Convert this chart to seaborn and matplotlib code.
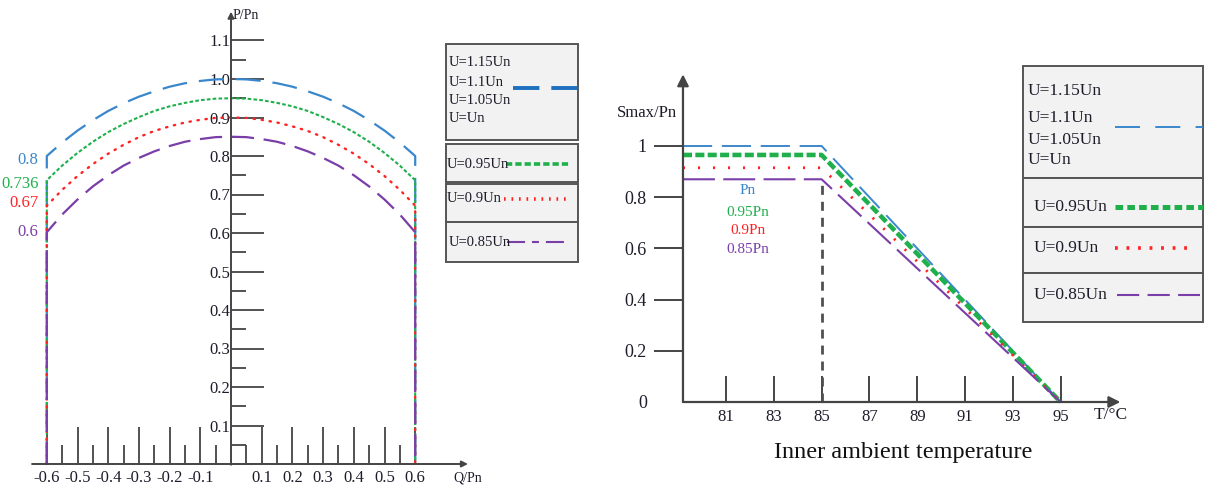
import pandas as pd
import seaborn as sns
import matplotlib.pyplot as plt
from matplotlib.patches import Rectangle

# ---- left chart: P/Pn vs Q/Pn for the voltage levels ----
q_pts = [-0.6, -0.55, -0.5, -0.45, -0.4, -0.35, -0.3, -0.25, -0.2, -0.15, -0.1, -0.05, 0.0,
         0.05, 0.1, 0.15, 0.2, 0.25, 0.3, 0.35, 0.4, 0.45, 0.5, 0.55, 0.6]
p_un = [0.800, 0.835, 0.866, 0.893, 0.917, 0.937, 0.954, 0.968, 0.980, 0.989, 0.995, 0.999, 1.000,
        0.999, 0.995, 0.989, 0.980, 0.968, 0.954, 0.937, 0.917, 0.893, 0.866, 0.835, 0.800]
p_095 = [0.737, 0.775, 0.808, 0.837, 0.862, 0.883, 0.901, 0.917, 0.929, 0.938, 0.945, 0.949, 0.950,
         0.949, 0.945, 0.938, 0.929, 0.917, 0.901, 0.883, 0.862, 0.837, 0.808, 0.775, 0.737]
p_090 = [0.671, 0.712, 0.748, 0.779, 0.806, 0.829, 0.849, 0.865, 0.877, 0.887, 0.894, 0.899, 0.900,
         0.899, 0.894, 0.887, 0.877, 0.865, 0.849, 0.829, 0.806, 0.779, 0.748, 0.712, 0.671]
p_085 = [0.602, 0.648, 0.687, 0.721, 0.750, 0.775, 0.795, 0.812, 0.826, 0.837, 0.844, 0.849, 0.850,
         0.849, 0.844, 0.837, 0.826, 0.812, 0.795, 0.775, 0.750, 0.721, 0.687, 0.648, 0.602]
end_labels = ['0.8', '0.736', '0.67', '0.6']
end_label_y = [0.79, 0.727, 0.678, 0.603]

# ---- right chart: Smax/Pn vs inner ambient temperature ----
temps = [79.2, 85, 95]
s_pn = [1.0, 1.0, 0.0]
s_095 = [0.965, 0.965, 0.0]
s_090 = [0.915, 0.915, 0.0]
s_085 = [0.87, 0.87, 0.0]
limit_t = [85, 85]
limit_s = [0.0, 0.87]
pn_labels = ['Pn', '0.95Pn', '0.9Pn', '0.85Pn']
pn_label_y = [0.828, 0.742, 0.668, 0.594]

blue, green, red, purple = '#3b87cc', '#1fb04c', '#ff2222', '#7a3ea8'
axc = '#444444'
txt = '#1c1c2a'

sns.set_style("white")
plt.rcParams['font.family'] = ['Liberation Serif', 'DejaVu Serif']
plt.rcParams['lines.scale_dashes'] = False

W, H = 1207, 488
fig = plt.figure(figsize=(W / 100, H / 100), dpi=100)


def px_axes(x0, x1, y0, y1):
    return fig.add_axes([x0 / W, (H - y1) / H, (x1 - x0) / W, (y1 - y0) / H])


# left axes: Q = (px-231)/307, P = (464-py)/385
ax1 = px_axes(10, 480, 5, 488)
ax1.set_xlim((10 - 231) / 307, (480 - 231) / 307)
ax1.set_ylim((464 - 488) / 385, (464 - 5) / 385)

curves = [(p_un, blue, 1.6, (0, (18, 8.6)), 'butt'),
          (p_095, green, 1.5, (0, (2.6, 1.6)), 'butt'),
          (p_090, red, 1.7, (0, (1.0, 4.8)), 'round'),
          (p_085, purple, 1.6, (0, (16, 7)), 'butt')]
for p, c, lw, ls, cap in curves:
    df = pd.DataFrame({'Q': [q_pts[0]] + q_pts + [q_pts[-1]], 'P': [0.0] + p + [0.0]})
    sns.lineplot(data=df, x='Q', y='P', sort=False, estimator=None, ax=ax1,
                 color=c, lw=lw, linestyle=ls, dash_capstyle=cap)

for lab, y, c in zip(end_labels, end_label_y, [blue, green, red, purple]):
    ax1.text(-0.627, y, lab, color=c, fontsize=12, ha='right', va='center')

for s in ax1.spines.values():
    s.set_visible(False)
ax1.spines['left'].set_position(('data', 0))
ax1.spines['bottom'].set_position(('data', 0))
ax1.annotate('', xy=(0, 1.175), xytext=(0, -0.002),
             arrowprops=dict(arrowstyle='-|>', color=axc, lw=1.4, shrinkA=0, shrinkB=0, mutation_scale=9))
ax1.annotate('', xy=(0.772, 0), xytext=(-0.648, 0),
             arrowprops=dict(arrowstyle='-|>', color=axc, lw=1.4, shrinkA=0, shrinkB=0, mutation_scale=9))

xt = [-0.6, -0.5, -0.4, -0.3, -0.2, -0.1, 0.1, 0.2, 0.3, 0.4, 0.5, 0.6]
ax1.set_xticks(xt)
ax1.set_xticklabels([f'{v:.1f}' for v in xt])
ax1.set_xticks([v + 0.05 for v in [-0.6, -0.5, -0.4, -0.3, -0.2, -0.1, 0.0, 0.1, 0.2, 0.3, 0.4, 0.5]], minor=True)
yt = [0.1, 0.2, 0.3, 0.4, 0.5, 0.6, 0.7, 0.8, 0.9, 1.0, 1.1]
ax1.set_yticks(yt)
ax1.set_yticklabels([f'{v:.1f}' for v in yt])
ax1.set_yticks([v - 0.05 for v in yt], minor=True)
ax1.tick_params(axis='x', which='major', bottom=True, direction='in', length=27, width=1.3,
                color=axc, pad=4, labelsize=12, labelcolor=txt)
ax1.tick_params(axis='x', which='minor', bottom=True, direction='in', length=14, width=1.3, color=axc)
ax1.tick_params(axis='y', which='major', left=True, direction='in', length=24, width=1.3,
                color=axc, pad=0.5, labelsize=12, labelcolor=txt)
ax1.tick_params(axis='y', which='minor', left=True, direction='in', length=11, width=1.3, color=axc)
ax1.set_xlabel('')
ax1.set_ylabel('')
ax1.text(0.006, 1.166, 'P/Pn', fontsize=10, color=txt, ha='left', va='center')
ax1.text(0.723, -0.036, 'Q/Pn', fontsize=10, color=txt, ha='left', va='center')

# right axes: T = 81 + (px-726)/23.9, S = (402-py)/256
ax2 = px_axes(600, 1207, 40, 488)
ax2.set_xlim(81 + (600 - 726) / 23.9, 81 + (1207 - 726) / 23.9)
ax2.set_ylim((402 - 488) / 256, (402 - 40) / 256)

lines2 = [(s_pn, blue, 1.4, (0, (21, 7))),
          (s_095, green, 3.3, (0, (6.5, 2.4))),
          (s_090, red, 2.0, (0, (1.5, 9.3))),
          (s_085, purple, 1.5, (0, (23, 6)))]
for s, c, lw, ls in lines2:
    sns.lineplot(x=temps, y=s, sort=False, estimator=None, ax=ax2, color=c, lw=lw, linestyle=ls)
sns.lineplot(x=limit_t, y=limit_s, sort=False, estimator=None, ax=ax2,
             color='#505050', lw=2.0, linestyle=(0, (6.5, 5)))

for lab, y, c in zip(pn_labels, pn_label_y, [blue, green, red, purple]):
    ax2.text(81.9, y, lab, color=c, fontsize=11, ha='center', va='center')

for s in ax2.spines.values():
    s.set_visible(False)
ax2.spines['left'].set_position(('data', temps[0]))
ax2.spines['bottom'].set_position(('data', 0))
ax2.annotate('', xy=(temps[0], 1.28), xytext=(temps[0], 0),
             arrowprops=dict(arrowstyle='-|>', color=axc, lw=1.6, shrinkA=0, shrinkB=0, mutation_scale=17))
ax2.annotate('', xy=(97.5, 0), xytext=(temps[0], 0),
             arrowprops=dict(arrowstyle='-|>', color=axc, lw=1.6, shrinkA=0, shrinkB=0, mutation_scale=17))

ax2.set_xticks([81, 83, 85, 87, 89, 91, 93, 95])
ax2.set_yticks([0, 0.2, 0.4, 0.6, 0.8, 1.0])
ax2.set_yticklabels(['0', '0.2', '0.4', '0.6', '0.8', '1'])
ax2.tick_params(axis='x', bottom=True, direction='in', length=19, width=1.4, color=axc, pad=5,
                labelsize=12, labelcolor=txt)
ax2.tick_params(axis='y', left=True, direction='out', length=21, width=1.4, color=axc, pad=5,
                labelsize=13, labelcolor=txt)
ax2.yaxis.get_major_ticks()[0].tick1line.set_visible(False)
ax2.set_ylabel('')
ax2.set_xlabel('Inner ambient temperature', fontsize=17.5, color='#111111', labelpad=12)
ax2.text(77.7, 1.129, 'Smax/Pn', fontsize=12, color=txt, ha='center', va='center')
ax2.text(96.4, -0.05, 'T/°C', fontsize=12.5, color=txt, ha='left', va='center')

# legend panels drawn on a pixel overlay
ov = fig.add_axes([0, 0, 1, 1], zorder=5)
ov.set_xlim(0, W)
ov.set_ylim(H, 0)
ov.axis('off')
ov.patch.set_alpha(0)


def panel(x0, x1, y0, y1):
    ov.add_patch(Rectangle((x0, y0), x1 - x0, y1 - y0, facecolor='#f2f2f2',
                           edgecolor='#555555', lw=1.4))


for y0, y1 in [(44, 140), (144, 182), (184, 222), (222, 262)]:
    panel(446, 578, y0, y1)
for lab, y in [('U=1.15Un', 63), ('U=1.1Un', 82), ('U=1.05Un', 101), ('U=Un', 119)]:
    ov.text(449, y, lab, fontsize=10.5, color=txt, va='center')
ov.plot([513, 578], [88, 88], color='#1f6fc0', lw=2.8, linestyle=(0, (19, 8.6)))
ov.text(447, 164, 'U=0.95Un', fontsize=10.5, color=txt, va='center')
ov.plot([506, 570], [164, 164], color=green, lw=2.6, linestyle=(0, (4.5, 2.2)))
ov.text(447, 199, 'U=0.9Un', fontsize=10.5, color=txt, va='center')
ov.plot([504, 566], [199, 199], color=red, lw=2.6, linestyle=(0, (1.2, 4.2)))
ov.text(449, 242, 'U=0.85Un', fontsize=10.5, color=txt, va='center')
ov.plot([507, 567], [242, 242], color=purple, lw=1.5, linestyle=(0, (13, 5, 5, 5)))

for y0, y1 in [(66, 178), (178, 227), (227, 273), (273, 322)]:
    panel(1023, 1203, y0, y1)
for lab, y in [('U=1.15Un', 91), ('U=1.1Un', 118), ('U=1.05Un', 140), ('U=Un', 160)]:
    ov.text(1028, y, lab, fontsize=12.5, color=txt, va='center')
ov.plot([1115, 1203], [127, 127], color=blue, lw=1.4, linestyle=(0, (18, 11)))
ov.text(1034, 207, 'U=0.95Un', fontsize=12.5, color=txt, va='center')
ov.plot([1115, 1203], [207, 207], color=green, lw=3.6, linestyle=(0, (5.5, 3)))
ov.text(1034, 248, 'U=0.9Un', fontsize=12.5, color=txt, va='center')
ov.plot([1115, 1195], [248, 248], color=red, lw=2.6, linestyle=(0, (2, 6.3)))
ov.text(1034, 295, 'U=0.85Un', fontsize=12.5, color=txt, va='center')
ov.plot([1117, 1200], [295, 295], color=purple, lw=1.5, linestyle=(0, (16, 6)))

fig.savefig('out.png', dpi=100)
